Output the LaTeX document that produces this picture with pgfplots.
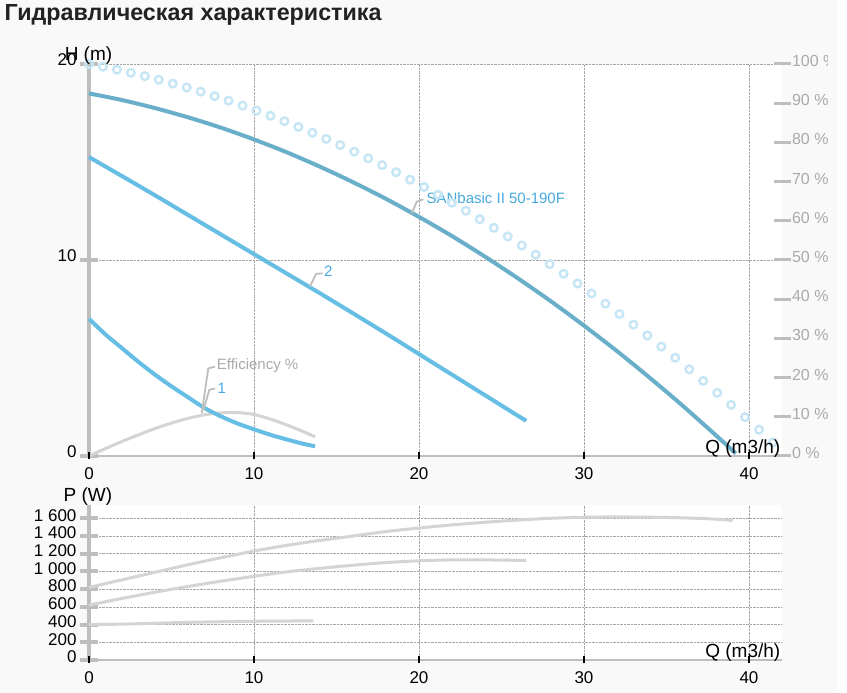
\documentclass[border=0pt]{standalone}
\usepackage{pgfplots}
\pgfplotsset{compat=1.18}
\usepackage{fontspec}
\setmainfont{Liberation Sans}
\definecolor{bgc}{RGB}{249,249,249}
\definecolor{axgrey}{RGB}{190,190,190}
\definecolor{gridc}{RGB}{165,165,165}
\definecolor{sanblue}{RGB}{106,175,202}
\definecolor{cblue}{RGB}{102,190,228}
\definecolor{labblue}{RGB}{72,170,222}
\definecolor{circc}{RGB}{198,230,246}
\definecolor{effc}{RGB}{212,212,212}
\definecolor{labgrey}{RGB}{170,170,170}
\newcommand{\tf}{\fontsize{17}{17}\selectfont}
\newcommand{\lf}{\fontsize{19}{19}\selectfont}
\newcommand{\af}{\fontsize{15}{15}\selectfont}
\pgfplotsset{
  common/.style={
    scale only axis, width=693pt, xmin=0, xmax=42,
    axis x line*=bottom, axis y line*=left,
    axis line style={-},
    x axis line style={draw=axgrey, line width=2.5pt},
    y axis line style={draw=axgrey, line width=3.3pt},
    xtick={0,10,20,30,40},
    xtick style={draw=none},
    ytick style={draw=axgrey, line width=4pt},
    major tick length=18pt, tick align=center,
    grid=major, grid style={gridc, densely dotted, line width=0.7pt},
    axis background/.style={fill=white},
    tick label style={font=\tf, text=black},
    /pgf/number format/assume math mode=true,
    xticklabel style={yshift=1pt},
    yticklabel style={xshift=0pt, yshift=4pt},
    clip=false,
  },
  xtk/.style={
    scale only axis, width=693pt, xmin=0, xmax=42,
    hide y axis, axis x line*=bottom,
    x axis line style={draw=none},
    xtick={0,10,20,30,40}, xticklabels={},
    major tick length=7pt, tick align=center,
    xtick style={draw=black, line width=2.7pt},
  }
}
\begin{document}
\begin{tikzpicture}[x=1pt,y=1pt]
\fill[bgc] (0,0) rectangle (847,693);
\fill[white!60!bgc] (837,0) rectangle (847,693);
\node[anchor=base west, inner sep=0, font=\fontsize{23.3}{23.3}\selectfont\bfseries, text={rgb,255:red,34;green,34;blue,34}] at (4.5,672) {Гидравлическая характеристика};

% ---------------- top chart
\begin{axis}[common, name=top, at={(89pt,237pt)}, anchor=south west,
  height=392pt, ymin=0, ymax=20, ytick={0,10,20}]
\addplot[only marks, mark=o, mark size=3.8pt, mark options={draw=circc, line width=2.4pt}] coordinates {
(0,20.00)(0.846,19.86)(1.692,19.71)(2.538,19.55)(3.384,19.38)(4.230,19.20)(5.076,19.00)(5.922,18.80)(6.768,18.59)(7.614,18.36)
(8.460,18.13)(9.306,17.88)(10.152,17.62)(10.998,17.36)(11.844,17.08)(12.690,16.79)(13.536,16.49)(14.382,16.18)(15.228,15.86)(16.074,15.53)
(16.920,15.19)(17.766,14.84)(18.612,14.48)(19.458,14.10)(20.304,13.72)(21.150,13.33)(21.996,12.92)(22.842,12.51)(23.688,12.08)(24.534,11.64)
(25.380,11.20)(26.226,10.74)(27.072,10.27)(27.918,9.79)(28.764,9.30)(29.610,8.80)(30.456,8.29)(31.302,7.77)(32.148,7.24)(32.994,6.70)
(33.840,6.15)(34.686,5.58)(35.532,5.01)(36.378,4.42)(37.224,3.83)(38.070,3.22)(38.916,2.61)(39.762,1.98)(40.608,1.34)(41.454,0.69)};
\addplot[effc, line width=3pt, smooth] coordinates {
(0,0)(1,0.38)(2,0.74)(3,1.08)(4,1.40)(5,1.68)(6,1.92)(7,2.10)(8,2.20)(9,2.21)(10,2.12)(11,1.88)(12,1.58)(13,1.24)(13.7,0.98)};
\addplot[sanblue, line width=4pt, smooth] coordinates {
(0,18.50)(2,18.16)(4,17.75)(6,17.28)(8,16.75)(10,16.15)(12,15.49)(14,14.76)(16,13.97)(18,13.12)(20,12.20)
(22,11.22)(24,10.17)(26,9.06)(28,7.89)(30,6.65)(32,5.35)(34,3.98)(36,2.55)(38,1.05)(39.2,0.13)};
\addplot[cblue, line width=4pt, smooth] coordinates {
(0,15.25)(2,14.28)(4,13.30)(6,12.30)(8,11.30)(10,10.30)(12,9.30)(14,8.30)(16,7.28)(18,6.25)(20,5.20)(22,4.15)(24,3.10)(26,2.05)(26.5,1.80)};
\addplot[cblue, line width=4pt, smooth] coordinates {
(0,7.00)(1,6.20)(2,5.50)(3,4.80)(4,4.15)(5,3.55)(6,3.00)(7,2.45)(8,2.02)(9,1.66)(10,1.36)(11,1.08)(12,0.84)(13,0.62)(13.7,0.50)};
% annotations
\draw[axgrey, line width=1.8pt] (axis cs:19.56,12.38) -- (axis cs:19.86,12.97) -- (axis cs:20.26,13.10);
\node[anchor=west, inner sep=0, text=labblue, font=\af] at (axis cs:20.45,13.15) {SANbasic II 50-190F};
\draw[axgrey, line width=1.8pt] (axis cs:13.39,8.64) -- (axis cs:13.76,9.29) -- (axis cs:14.16,9.32);
\node[anchor=west, inner sep=0, text=labblue, font=\af] at (axis cs:14.24,9.40) {2};
\draw[axgrey, line width=1.8pt] (axis cs:6.83,2.18) -- (axis cs:7.23,4.47) -- (axis cs:7.64,4.56);
\node[anchor=west, inner sep=0, text=labgrey, font=\af] at (axis cs:7.74,4.59) {Efficiency \%};
\draw[axgrey, line width=1.8pt] (axis cs:6.93,2.35) -- (axis cs:7.29,3.37) -- (axis cs:7.64,3.45);
\node[anchor=west, inner sep=0, text=labblue, font=\af] at (axis cs:7.79,3.45) {1};
\end{axis}
\begin{axis}[xtk, at={(89pt,237pt)}, anchor=south west, height=392pt, ymin=0, ymax=20]
\addplot[draw=none] coordinates {(0,0)};
\end{axis}
% right percentage axis
\begin{scope}
\clip (0,0) rectangle (827,693);
\begin{axis}[at={(89pt,237pt)}, anchor=south west, scale only axis, width=693pt, height=392pt,
  xmin=0, xmax=42, ymin=0, ymax=100, hide x axis, axis y line*=right,
  y axis line style={draw=none}, ytick={0,10,...,100},
  major tick length=17pt, tick align=center,
  ytick style={draw=axgrey, line width=3pt},
  yticklabel={\pgfmathprintnumber{\tick}~\%},
  yticklabel style={font=\fontsize{16}{16}\selectfont, text=labgrey, xshift=-2pt, yshift=3pt},
  /pgf/number format/assume math mode=true]
\addplot[draw=none] coordinates {(0,0)};
\end{axis}
\end{scope}
\node[font=\lf, inner sep=0] at (88.5,637.5) {H (m)};
\node[font=\lf, anchor=east, inner sep=0] at (780.5,244) {Q (m3/h)};

% ---------------- bottom chart
\begin{axis}[common, name=bot, at={(89pt,33pt)}, anchor=south west,
  height=155pt, ymin=0, ymax=1750, ytick={0,200,...,1600},
  /pgf/number format/1000 sep={\ },
  yticklabel style={yshift=-1pt}]
\addplot[effc, line width=3pt, smooth] coordinates {
(0,820)(2,905)(4,990)(6,1075)(8,1155)(10,1230)(12,1295)(14,1350)(16,1400)(18,1450)(20,1490)
(22,1525)(24,1555)(26,1580)(28,1600)(30,1612)(32,1615)(34,1612)(36,1605)(38,1590)(39,1575)};
\addplot[effc, line width=3pt, smooth] coordinates {
(0,620)(2,695)(4,765)(6,830)(8,890)(10,945)(12,995)(14,1035)(16,1070)(18,1100)(20,1120)(22,1130)(24,1130)(26,1125)(26.5,1125)};
\addplot[effc, line width=3pt, smooth] coordinates {
(0,400)(2,405)(4,415)(6,425)(8,432)(10,437)(12,440)(13.6,442)};
\end{axis}
\begin{axis}[xtk, at={(89pt,33pt)}, anchor=south west, height=155pt, ymin=0, ymax=1750]
\addplot[draw=none] coordinates {(0,0)};
\end{axis}
\node[font=\lf, inner sep=0] at (88,196) {P (W)};
\node[font=\lf, anchor=east, inner sep=0] at (780.5,40) {Q (m3/h)};

\pgfresetboundingbox
\path[use as bounding box] (0,0) rectangle (847,693);
\end{tikzpicture}
\end{document}
